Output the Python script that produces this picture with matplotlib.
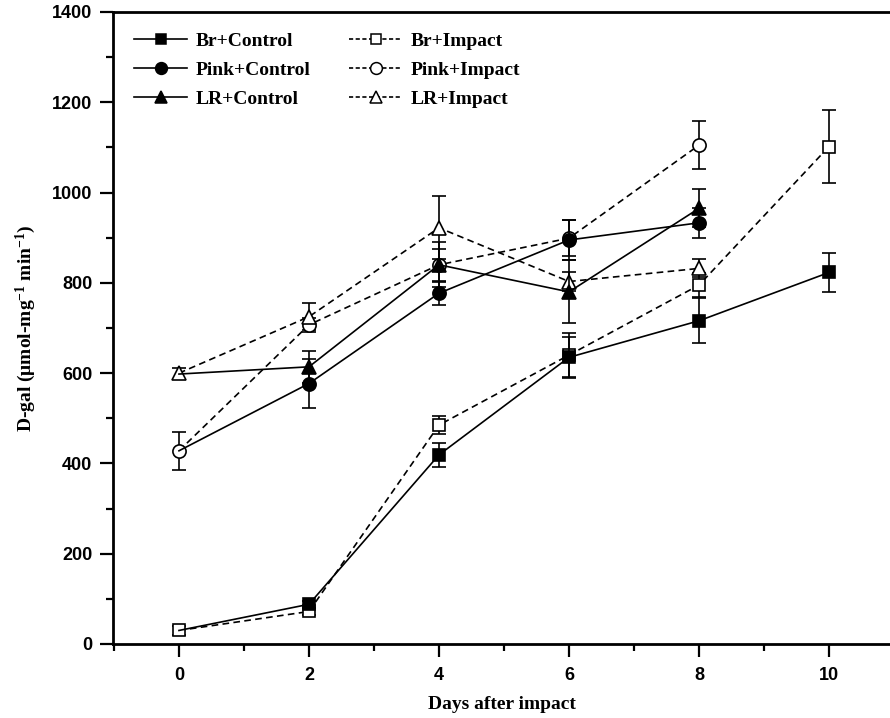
import matplotlib
matplotlib.use("Agg")
import matplotlib.pyplot as plt
from matplotlib.lines import Line2D
from matplotlib.ticker import MultipleLocator

plt.rcParams['mathtext.fontset'] = 'custom'
plt.rcParams['mathtext.rm'] = 'Liberation Serif:bold'
plt.rcParams['mathtext.default'] = 'rm'

# ---- data ----
days = [0, 2, 4, 6, 8, 10]
days8 = [0, 2, 4, 6, 8]

br_control = [30, 88, 419, 635, 716, 823]
br_control_err = [8, 8, 27, 45, 50, 43]
br_impact = [30, 72, 485, 640, 795, 1102]
br_impact_err = [10, 8, 20, 48, 27, 80]

pink_control = [428, 577, 777, 895, 933]
pink_control_err = [42, 55, 25, 45, 33]
pink_impact = [428, 707, 840, 899, 1105]
pink_impact_err = [42, 15, 35, 40, 53]

lr_control = [598, 614, 840, 780, 965]
lr_control_err = [12, 35, 50, 70, 42]
lr_impact = [600, 725, 922, 803, 832]
lr_impact_err = [12, 30, 70, 20, 20]

xticks = [0, 2, 4, 6, 8, 10]
yticks = [0, 200, 400, 600, 800, 1000, 1200, 1400]

W, H = 890, 718
fig = plt.figure(figsize=(W / 100, H / 100), dpi=100)
ax = fig.add_axes([113 / W, 1 - 644 / H, 1 - 113 / W, (644 - 12) / H])

dash = (0, (4, 2.6))
msize = {'s': 8.5, 'o': 9.5, '^': 10}
common = dict(color='black', lw=1.2, capsize=5, capthick=1.3, elinewidth=1.2,
              markeredgecolor='black', markeredgewidth=1.2)

# Impact series (open markers, dashed)
for x, y, e, m in [(days, br_impact, br_impact_err, 's'),
                   (days8, pink_impact, pink_impact_err, 'o'),
                   (days8, lr_impact, lr_impact_err, '^')]:
    ax.errorbar(x, y, yerr=e, fmt=m, linestyle=dash, markerfacecolor='white',
                ms=msize[m], zorder=3, **common)

# Control series (filled markers, solid); day-0 shares the impact value
for x, y, e, m in [(days, br_control, br_control_err, 's'),
                   (days8, pink_control, pink_control_err, 'o'),
                   (days8, lr_control, lr_control_err, '^')]:
    ax.plot(x, y, color='black', lw=1.2, linestyle='-', zorder=4)
    ax.errorbar(x[1:], y[1:], yerr=e[1:], fmt=m, linestyle='none',
                markerfacecolor='black', ms=msize[m], zorder=4, **common)

ax.set_xlim(-1.015, (890 - 179) / 65.0)
ax.set_ylim(0, 1400)

ax.set_xticks(xticks)
ax.set_yticks(yticks)
ax.xaxis.set_minor_locator(MultipleLocator(1))
ax.yaxis.set_minor_locator(MultipleLocator(100))

ax.spines['right'].set_visible(False)
for s in ['left', 'bottom', 'top']:
    ax.spines[s].set_linewidth(2.0)

ax.tick_params(which='major', direction='out', length=9.5, width=1.6)
ax.tick_params(which='minor', direction='out', length=5, width=1.6)
ax.tick_params(axis='y', pad=5.5)
ax.tick_params(axis='x', pad=7)
tickfont = dict(family='Liberation Sans', weight='bold', size=13)
ax.set_xticklabels([str(t) for t in xticks], **tickfont)
ax.set_yticklabels([str(t) for t in yticks], **tickfont)

labfont = dict(family='Liberation Serif', weight='bold', size=14)
ax.set_xlabel('Days after impact', labelpad=9, **labfont)
ax.set_ylabel('D-gal (μmol-mg$^{-1}$ min$^{-1}$)', labelpad=10, **labfont)

# legend
def handle(m, filled, ls):
    return Line2D([0], [0], color='black', lw=1.2, linestyle=ls, marker=m,
                  ms=msize[m] - 1, markerfacecolor='black' if filled else 'white',
                  markeredgecolor='black', markeredgewidth=1.1)

handles = [handle('s', True, '-'), handle('o', True, '-'), handle('^', True, '-'),
           handle('s', False, (0, (2.5, 1.5))), handle('o', False, (0, (2.5, 1.5))),
           handle('^', False, (0, (2.5, 1.5)))]
labels = ['Br+Control', 'Pink+Control', 'LR+Control',
          'Br+Impact', 'Pink+Impact', 'LR+Impact']
leg = ax.legend(handles, labels, ncol=2, frameon=False, loc='upper left',
                bbox_to_anchor=(0.005, 0.995), handlelength=2.7, handletextpad=0.45,
                labelspacing=0.58, columnspacing=2.0,
                prop=dict(family='Liberation Serif', weight='bold', size=14))

fig.savefig('out.png', dpi=100)
